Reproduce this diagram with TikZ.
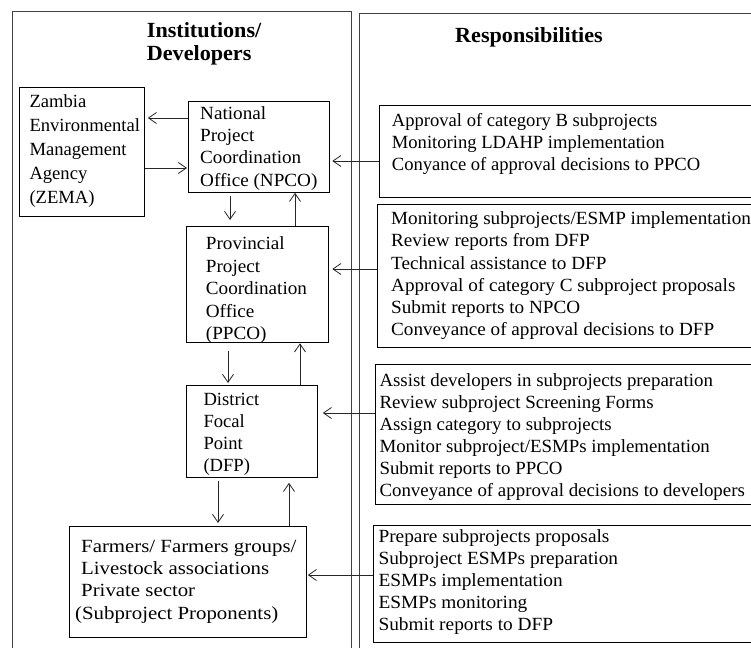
\documentclass[tikz,border=0pt]{standalone}
\usepackage{fontspec}
\setmainfont{Liberation Serif}
\newfontfamily\stA[FakeStretch=1.03]{Liberation Serif}
\newfontfamily\stB[FakeStretch=1.04]{Liberation Serif}
\newfontfamily\stC[FakeStretch=1.015]{Liberation Serif}
\newfontfamily\stF[FakeStretch=1.12]{Liberation Serif}
\newfontfamily\stH[FakeStretch=1.025]{Liberation Serif}
\usetikzlibrary{arrows.meta}
\tikzset{
  colbox/.style={draw=black!75, line width=0.8pt},
  ibox/.style={draw=black, line width=0.8pt, rectangle, inner sep=0pt, anchor=north west},
  txt/.style={anchor=north west, inner sep=0pt, align=left, font=\fontsize{18.6}{22.2}\selectfont},
  hdr/.style={anchor=north west, inner sep=0pt, align=left, font=\fontsize{21.6}{22.7}\selectfont\stH\bfseries},
  arr/.style={draw=black!85, line width=0.8pt, -{Straight Barb[length=8pt,width=11pt]}},
}
\begin{document}
\begin{tikzpicture}[x=1pt,y=-1pt]
\path[use as bounding box] (0,0) rectangle (751,647);
\clip (0,0) rectangle (751,647);
\fill[white] (0,0) rectangle (751,647);
% columns
\draw[colbox] (12,11) rectangle (351,700);
\draw[colbox] (359,13) rectangle (800,700);
\node[hdr] (hleft) at (146.7,22.7) {Institutions/\\Developers};
\node[hdr] (hright) at (455,27.7) {Responsibilities};
% institution boxes
\node[ibox, minimum width=125pt, minimum height=129pt] (zema) at (19,87) {};
\node[ibox, minimum width=141pt, minimum height=91pt] (npco) at (188,101) {};
\node[ibox, minimum width=142pt, minimum height=116pt] (ppco) at (186,226) {};
\node[ibox, minimum width=131pt, minimum height=92pt] (dfp) at (185.5,385) {};
\node[ibox, minimum width=237pt, minimum height=111pt] (farm) at (69,526) {};
% responsibility boxes
\node[ibox, minimum width=421pt, minimum height=92pt] (r1) at (379,105) {};
\node[ibox, minimum width=423pt, minimum height=143pt] (r2) at (377,204) {};
\node[ibox, minimum width=425pt, minimum height=140pt] (r3) at (375,364) {};
\node[ibox, minimum width=427pt, minimum height=117pt] (r4) at (373,525) {};
% texts
\node[txt, font=\fontsize{18.6}{24.1}\selectfont] (tzema) at (29.3,94.3) {Zambia\\Environmental\\Management\\Agency\\(ZEMA)};
\node[txt, font=\fontsize{18.6}{22.4}\selectfont\stA] (tnpco) at (200,106) {National\\Project\\Coordination\\Office (NPCO)};
\node[txt, font=\fontsize{18.6}{22.5}\selectfont\stA] (tppco) at (205.7,236.7) {Provincial\\Project\\Coordination\\Office\\(PPCO)};
\node[txt, font=\fontsize{18.6}{22.2}\selectfont] (tdfp) at (203.3,392.7) {District\\Focal\\Point\\(DFP)};
\node[txt, font=\fontsize{18.6}{22.2}\selectfont\stF] (tfarm) at (75,540) {\hspace*{6pt}Farmers/ Farmers groups/\\\hspace*{6pt}Livestock associations\\\hspace*{6pt}Private sector\\(Subproject Proponents)};
\node[txt, font=\fontsize{18.6}{22}\selectfont] (tr1) at (391.7,113.3) {Approval of category B subprojects\\Monitoring LDAHP implementation\\Conyance of approval decisions to PPCO};
\node[txt, font=\fontsize{18.6}{22.1}\selectfont\stA] (tr2) at (391,211.7) {Monitoring subprojects/ESMP implementation\\Review reports from DFP\\Technical assistance to DFP\\Approval of category C subproject proposals\\Submit reports to NPCO\\Conveyance of approval decisions to DFP};
\node[txt, font=\fontsize{18.6}{22}\selectfont\stC] (tr3) at (379.3,373.3) {Assist developers in subprojects preparation\\Review subproject Screening Forms\\Assign category to subprojects\\Monitor subproject/ESMPs implementation\\Submit reports to PPCO\\Conveyance of approval decisions to developers};
\node[txt, font=\fontsize{18.6}{22}\selectfont\stB] (tr4) at (378.3,529.3) {Prepare subprojects proposals\\Subproject ESMPs preparation\\ESMPs implementation\\ESMPs monitoring\\Submit reports to DFP};
% arrows between institutions
\draw[arr, shorten >=3pt] (npco.west |- 0,118) -- (zema.east |- 0,118);
\draw[arr, shorten >=1pt] (zema.east |- 0,168) -- (npco.west |- 0,168);
\draw[arr, shorten <=3pt, shorten >=6pt] (npco.south -| 230,0) -- (ppco.north -| 230,0);
\draw[arr] (ppco.north -| 295,0) -- (npco.south -| 295,0);
\draw[arr, shorten <=8pt, shorten >=2pt] (ppco.south -| 228,0) -- (dfp.north -| 228,0);
\draw[arr, shorten >=0.5pt] (dfp.north -| 300,0) -- (ppco.south -| 300,0);
\draw[arr, shorten <=3pt, shorten >=3pt] (dfp.south -| 218,0) -- (farm.north -| 218,0);
\draw[arr, shorten >=5pt] (farm.north -| 289,0) -- (dfp.south -| 289,0);
% arrows from responsibilities
\draw[arr, shorten >=2.5pt] (r1.west |- 0,161) -- (npco.east |- 0,161);
\draw[arr, shorten >=3.5pt] (r2.west |- 0,269) -- (ppco.east |- 0,269);
\draw[arr, shorten >=5.5pt] (r3.west |- 0,413) -- (dfp.east |- 0,413);
\draw[arr, shorten >=1pt] (r4.west |- 0,575) -- (farm.east |- 0,575);
\end{tikzpicture}
\end{document}
